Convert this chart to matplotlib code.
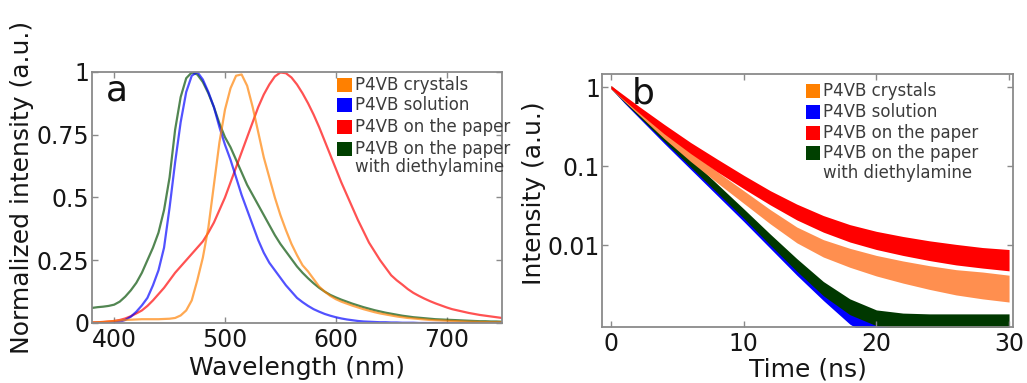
import matplotlib
matplotlib.use("Agg")
import matplotlib.pyplot as plt
from matplotlib.patches import Rectangle
from matplotlib.ticker import NullLocator
import numpy as np

plt.rcParams['font.family'] = ['DejaVu Sans']

# ---------------- (a) normalized emission spectra ----------------
wavelength = list(range(380, 755, 5))

spec_crystals = [0.002, 0.003, 0.004, 0.006, 0.008, 0.010, 0.012, 0.013, 0.014, 0.015,
                 0.015, 0.015, 0.015, 0.016, 0.017, 0.020, 0.030, 0.050, 0.090, 0.170,
                 0.260, 0.380, 0.550, 0.720, 0.850, 0.935, 0.985, 0.990, 0.945, 0.860,
                 0.760, 0.660, 0.580, 0.500, 0.430, 0.370, 0.315, 0.270, 0.230, 0.205,
                 0.175, 0.145, 0.125, 0.108, 0.095, 0.085, 0.077, 0.069, 0.062, 0.055,
                 0.049, 0.043, 0.038, 0.034, 0.030, 0.026, 0.023, 0.020, 0.018, 0.016,
                 0.014, 0.012, 0.011, 0.010, 0.009, 0.008, 0.007, 0.006, 0.005, 0.005,
                 0.004, 0.004, 0.003, 0.003, 0.003]

spec_solution = [0.000, 0.000, 0.000, 0.000, 0.002, 0.005, 0.012, 0.025, 0.045, 0.070,
                 0.100, 0.150, 0.210, 0.300, 0.460, 0.640, 0.800, 0.920, 0.985, 1.000,
                 0.970, 0.920, 0.860, 0.780, 0.710, 0.650, 0.580, 0.510, 0.450, 0.390,
                 0.330, 0.280, 0.240, 0.210, 0.180, 0.150, 0.125, 0.100, 0.083, 0.068,
                 0.055, 0.045, 0.036, 0.029, 0.023, 0.018, 0.014, 0.011, 0.008, 0.006,
                 0.005, 0.004, 0.003, 0.003, 0.002, 0.002, 0.001, 0.001, 0.001, 0.000,
                 0.000, 0.000, 0.000, 0.000, 0.000, 0.000, 0.000, 0.000, 0.000, 0.000,
                 0.000, 0.000, 0.000, 0.000, 0.000]

spec_paper = [0.002, 0.003, 0.004, 0.006, 0.008, 0.012, 0.018, 0.027, 0.038, 0.050,
              0.068, 0.090, 0.115, 0.140, 0.170, 0.200, 0.225, 0.250, 0.275, 0.300,
              0.325, 0.360, 0.400, 0.450, 0.500, 0.560, 0.620, 0.680, 0.740, 0.800,
              0.860, 0.910, 0.950, 0.982, 0.998, 0.995, 0.978, 0.950, 0.915, 0.875,
              0.830, 0.780, 0.725, 0.670, 0.615, 0.560, 0.510, 0.460, 0.410, 0.365,
              0.320, 0.285, 0.250, 0.220, 0.190, 0.170, 0.153, 0.135, 0.120, 0.108,
              0.097, 0.087, 0.078, 0.070, 0.062, 0.055, 0.050, 0.045, 0.040, 0.036,
              0.032, 0.029, 0.026, 0.023, 0.020]

spec_amine = [0.060, 0.063, 0.065, 0.068, 0.073, 0.085, 0.105, 0.130, 0.160, 0.200,
              0.250, 0.300, 0.360, 0.450, 0.580, 0.770, 0.900, 0.975, 0.998, 0.990,
              0.960, 0.915, 0.860, 0.795, 0.740, 0.700, 0.650, 0.600, 0.550, 0.510,
              0.470, 0.430, 0.390, 0.350, 0.315, 0.285, 0.255, 0.225, 0.200, 0.178,
              0.158, 0.140, 0.125, 0.112, 0.102, 0.093, 0.085, 0.077, 0.070, 0.063,
              0.057, 0.051, 0.046, 0.041, 0.037, 0.033, 0.029, 0.026, 0.023, 0.021,
              0.019, 0.017, 0.015, 0.014, 0.013, 0.012, 0.011, 0.010, 0.009, 0.008,
              0.007, 0.007, 0.006, 0.006, 0.005]

# ---------------- (b) fluorescence decays ----------------
# upper / lower edge of each measured point cloud, in decades (log10 of intensity)
time_ns = [0, 1, 2, 4, 6, 8, 10, 12, 14, 16, 18, 20, 22, 24, 26, 28, 30]

solution_hi_dec = [0.015, -0.145, -0.30, -0.62, -0.94, -1.26, -1.58, -1.91, -2.23,
                   -2.54, -2.82, -2.97, -2.98, -2.98, -2.98, -2.98, -2.98]
solution_lo_dec = [-0.015, -0.20, -0.37, -0.71, -1.04, -1.37, -1.70, -2.04, -2.38,
                   -2.70, -3.00, -3.20, -3.20, -3.20, -3.20, -3.20, -3.20]

amine_hi_dec = [0.02, -0.13, -0.285, -0.595, -0.91, -1.225, -1.54, -1.86, -2.17,
                -2.46, -2.68, -2.82, -2.86, -2.87, -2.87, -2.87, -2.87]
amine_lo_dec = [-0.02, -0.19, -0.355, -0.685, -1.01, -1.335, -1.66, -2.00, -2.33,
                -2.64, -2.88, -3.02, -3.07, -3.08, -3.08, -3.08, -3.08]

crystals_hi_dec = [0.02, -0.12, -0.265, -0.55, -0.82, -1.07, -1.31, -1.55, -1.77,
                   -1.93, -2.04, -2.13, -2.20, -2.26, -2.31, -2.34, -2.38]
crystals_lo_dec = [-0.02, -0.18, -0.335, -0.65, -0.94, -1.21, -1.47, -1.73, -1.97,
                   -2.15, -2.28, -2.39, -2.48, -2.56, -2.63, -2.68, -2.72]

paper_hi_dec = [0.02, -0.105, -0.23, -0.47, -0.70, -0.91, -1.115, -1.31, -1.48,
                -1.625, -1.74, -1.825, -1.89, -1.945, -1.99, -2.03, -2.055]
paper_lo_dec = [-0.02, -0.165, -0.31, -0.59, -0.84, -1.07, -1.285, -1.49, -1.68,
                -1.835, -1.96, -2.055, -2.13, -2.195, -2.25, -2.29, -2.325]

legend_labels = ["P4VB crystals", "P4VB solution", "P4VB on the paper",
                 "P4VB on the paper\nwith diethylamine"]
legend_cols = ['#ff8000', '#0000ff', '#ff0000', '#004000']

fig = plt.figure(figsize=(10.27, 3.83), dpi=100)
ax_a = fig.add_axes([0.0896, 0.1567, 0.3992, 0.6554])
ax_b = fig.add_axes([0.5862, 0.1462, 0.4002, 0.6606])

spine_col = '#8a8a8a'
txt_col = '#161616'


def style_axes(ax, ypad):
    for s in ax.spines.values():
        s.set_color(spine_col)
        s.set_linewidth(1.3)
    ax.tick_params(direction='in', length=4, width=1, color=spine_col,
                   top=True, right=True, labelsize=17, labelcolor=txt_col)
    ax.tick_params(axis='x', pad=3.3)
    ax.tick_params(axis='y', pad=ypad)


def draw_legend(ax, x_sq, sq_w, sq_h, x_txt, rows, line_gap):
    for lab, col, y in zip(legend_labels, legend_cols, rows):
        ax.add_patch(Rectangle((x_sq, y - sq_h / 2), sq_w, sq_h, transform=ax.transAxes,
                               facecolor=col, edgecolor='none'))
        for k, part in enumerate(lab.split('\n')):
            ax.text(x_txt, y - k * line_gap, part, transform=ax.transAxes,
                    fontsize=12, color='#3c3c3c', va='center', ha='left')


# spectra
for y, c in [(spec_amine, '#004d00'), (spec_paper, '#ff0000'),
             (spec_solution, '#0000ff'), (spec_crystals, '#ff8000')]:
    ax_a.plot(wavelength, y, color=c, lw=1.6, alpha=0.68)
ax_a.set_xlim(380, 750)
ax_a.set_ylim(0, 1)
ax_a.set_xticks([400, 500, 600, 700])
ax_a.set_yticks([0, 0.25, 0.5, 0.75, 1])
ax_a.set_yticklabels(['0', '0.25', '0.5', '0.75', '1'])
style_axes(ax_a, 2)
ax_a.set_xlabel('Wavelength (nm)', fontsize=18, color=txt_col, labelpad=3)
ax_a.set_ylabel('Normalized intensity (a.u.)', fontsize=18, color=txt_col, labelpad=2)
ax_a.yaxis.label.set_y(0.538)
ax_a.text(0.035, 0.885, 'a', transform=ax_a.transAxes, fontsize=26, color='#111111')
draw_legend(ax_a, 0.598, 0.036, 0.056, 0.641, [0.948, 0.869, 0.781, 0.693], 0.071)

# decays
for lo, hi, c in [(solution_lo_dec, solution_hi_dec, '#0000ff'),
                  (amine_lo_dec, amine_hi_dec, '#003800'),
                  (crystals_lo_dec, crystals_hi_dec, '#ff8f4f'),
                  (paper_lo_dec, paper_hi_dec, '#ff0000')]:
    ax_b.fill_between(time_ns, 10.0 ** np.array(lo), 10.0 ** np.array(hi), color=c, lw=0)
ax_b.set_yscale('log')
ax_b.set_xlim(-0.68, 30.3)
ax_b.set_ylim(9.2e-4, 1.47)
ax_b.set_xticks([0, 10, 20, 30])
ax_b.set_yticks([1, 0.1, 0.01])
ax_b.set_yticklabels(['1', '0.1', '0.01'])
ax_b.yaxis.set_minor_locator(NullLocator())
style_axes(ax_b, 1.5)
ax_b.set_xlabel('Time (ns)', fontsize=18, color=txt_col, labelpad=1.5)
ax_b.set_ylabel('Intensity (a.u.)', fontsize=18, color=txt_col, labelpad=1)
ax_b.yaxis.label.set_y(0.528)
ax_b.text(0.073, 0.885, 'b', transform=ax_b.transAxes, fontsize=26, color='#111111')
draw_legend(ax_b, 0.496, 0.034, 0.052, 0.538, [0.933, 0.850, 0.767, 0.688], 0.079)

fig.savefig('out.png', dpi=100)
